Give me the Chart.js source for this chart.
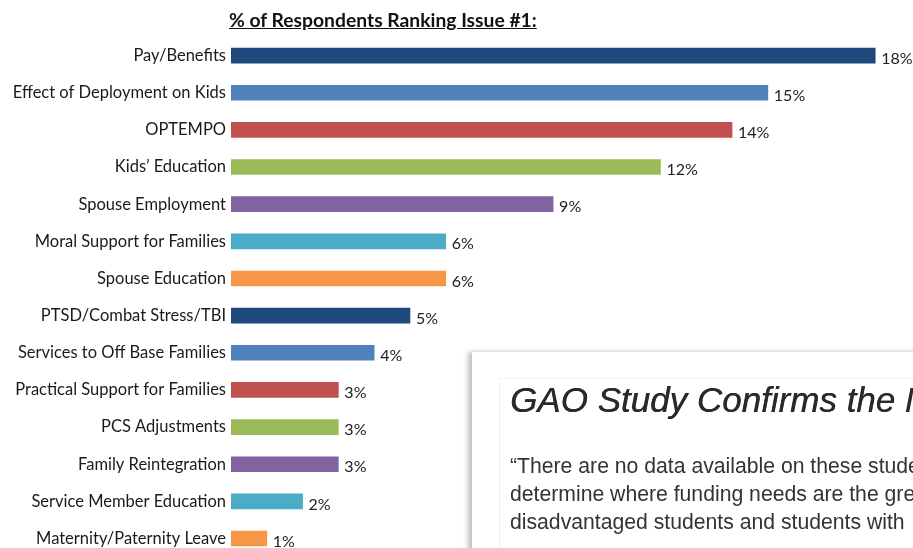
<!DOCTYPE html>
<html>
<head>
<meta charset="utf-8">
<script src="https://cdn.jsdelivr.net/npm/chart.js@4"></script>
<style>
  html, body { margin: 0; padding: 0; background: #fff; overflow: hidden; }
  #wrap { position: relative; width: 913px; height: 548px; overflow: hidden; }
  #chartBox { position: absolute; left: 0; top: 0; width: 913px; height: 564px; }
  #title {
    position: absolute; left: 229px; top: 8px;
    font: bold 19.3px Lato, "Open Sans", sans-serif; color: #111;
    text-decoration: underline; white-space: nowrap;
  }
  #note {
    position: absolute; left: 472px; top: 352px; width: 460px; height: 220px;
    background: #fff; box-shadow: -4px 0 5px rgba(0,0,0,0.25);
    overflow: hidden;
  }
  #note .inner {
    position: absolute; left: 27px; top: 26px; width: 460px; height: 200px;
    border-left: 1px solid #eee; border-top: 1px solid #f2f2f2;
  }
  #note h2 {
    margin: 0; position: absolute; left: 10px; top: 3px; white-space: nowrap;
    font: italic 35px/35px "Liberation Sans", Arial, sans-serif; color: #2a2a2a;
    text-shadow: 0.4px 0 0 #2a2a2a;
  }
  #note p {
    margin: 0; position: absolute; left: 10px; top: 73px; white-space: nowrap;
    font: 21.2px/28px "Liberation Sans", Arial, sans-serif; color: #333;
  }
</style>
</head>
<body>
<div id="wrap">
  <div id="chartBox"><canvas id="myChart"></canvas></div>
  <div id="title">% of Respondents Ranking Issue #1:</div>
  <div id="note">
    <div class="inner">
      <h2>GAO Study Confirms the Need</h2>
      <p>“There are no data available on these students to<br>determine where funding needs are the greatest<br>disadvantaged students and students with</p>
    </div>
  </div>
</div>
<script>
var issues = ['Pay/Benefits', 'Effect of Deployment on Kids', 'OPTEMPO', 'Kids\u2019 Education',
    'Spouse Employment', 'Moral Support for Families', 'Spouse Education', 'PTSD/Combat Stress/TBI',
    'Services to Off Base Families', 'Practical Support for Families', 'PCS Adjustments',
    'Family Reintegration', 'Service Member Education', 'Maternity/Paternity Leave']
var percents = [18, 15, 14, 12, 9, 6, 6, 5, 4, 3, 3, 3, 2, 1]
var barColors = ['#1F497D', '#4F81BD', '#C0504D', '#9BBB59', '#8064A2', '#4BACC6', '#F79646']

// value labels at the end of each bar
var valueLabels = {
    id: 'valueLabels',
    afterDatasetsDraw: function(chart){
        var ctx = chart.ctx
        var meta = chart.getDatasetMeta(0)
        ctx.save()
        ctx.font = '16px Lato, "Open Sans", sans-serif'
        ctx.fillStyle = '#222'
        ctx.textBaseline = 'middle'
        meta.data.forEach(function(bar, i){
            ctx.fillText(percents[i] + '%', bar.x + 6, bar.y + 3)
        })
        ctx.restore()
    }
}

var ctx = document.getElementById('myChart').getContext('2d');
var myChart = new Chart(ctx, {
    type: 'bar',
    data: {
        labels: issues,
        datasets: [{
            data: percents,
            backgroundColor: issues.map(function(_, i){ return barColors[i % barColors.length] }),
            barThickness: 15
        }]
    },
    options: {
        indexAxis: 'y',
        responsive: true,
        maintainAspectRatio: false,
        animation: false,
        layout: { padding: { top: 37, bottom: 3, left: 0, right: 2 } },
        plugins: {
            legend: { display: false },
            tooltip: { enabled: false }
        },
        scales: {
            x: { display: false, min: 0, max: 19 },
            y: {
                afterFit: function(scale){ scale.width = 231 },
                grid: { display: false },
                border: { display: false },
                ticks: {
                    padding: -3,
                    color: '#1a1a1a',
                    font: { family: 'Lato, "Open Sans", sans-serif', size: 16.5 }
                }
            }
        }
    },
    plugins: [valueLabels]
});
</script>
</body>
</html>
